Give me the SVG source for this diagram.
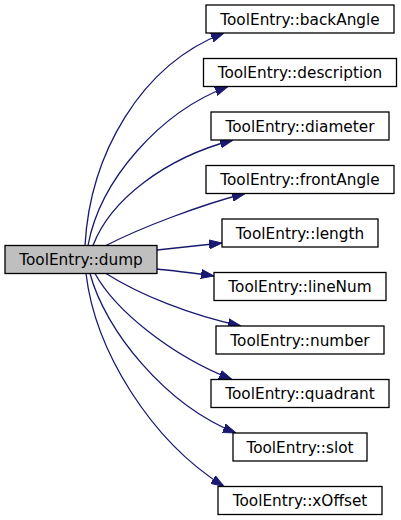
<svg xmlns="http://www.w3.org/2000/svg" width="401" height="520" viewBox="0 0 401 520">
<style>
.box rect{fill:#ffffff;stroke:#000000;stroke-width:1.3}
.root rect{fill:#bfbfbf}
.box text{font-family:"DejaVu Sans","Liberation Sans",sans-serif;font-size:15.3px;fill:#000000;text-anchor:middle}
.edge{fill:none;stroke:#191970;stroke-width:1.3;marker-end:url(#arr)}
</style>
<defs>
<marker id="arr" markerUnits="userSpaceOnUse" markerWidth="13" markerHeight="10" viewBox="0 0 13 10" refX="13" refY="5" orient="auto">
<path d="M0,0.5 L13,5 L0,9.5 Z" fill="#191970" stroke="#191970" stroke-width="1"/>
</marker>
</defs>
<rect x="0" y="0" width="401" height="520" fill="#ffffff"/>
<g id="edges">
<path class="edge" d="M85,245.5 C90,155 140,65 224,33"/>
<path class="edge" d="M88,245.5 C100,180 160,112 228,86.5"/>
<path class="edge" d="M93,245.5 C110,200 165,158 233,140"/>
<path class="edge" d="M106,245.5 C140,228 200,205 245,193.5"/>
<path class="edge" d="M157,250 C175,248 195,246 222,243"/>
<path class="edge" d="M157,269 C175,271 195,273 214,276"/>
<path class="edge" d="M106,273.5 C140,295 190,315 241,326"/>
<path class="edge" d="M95,273.5 C115,310 170,355 232,379.5"/>
<path class="edge" d="M90,273.5 C105,330 165,405 236,433"/>
<path class="edge" d="M86,273.5 C95,350 150,440 224,486.5"/>
</g>
<g id="dump" class="box root"><rect x="5" y="245.5" width="152" height="28"/><text x="81" y="265">ToolEntry::dump</text></g>
<g id="backAngle" class="box"><rect x="206" y="5" width="188" height="28"/><text x="300" y="24.5">ToolEntry::backAngle</text></g>
<g id="description" class="box"><rect x="203.5" y="58.5" width="193" height="28"/><text x="300" y="78">ToolEntry::description</text></g>
<g id="diameter" class="box"><rect x="211" y="112" width="178" height="28"/><text x="300" y="131.5">ToolEntry::diameter</text></g>
<g id="frontAngle" class="box"><rect x="206" y="165.5" width="188" height="28"/><text x="300" y="185">ToolEntry::frontAngle</text></g>
<g id="length" class="box"><rect x="222" y="219" width="156" height="28"/><text x="300" y="238.5">ToolEntry::length</text></g>
<g id="lineNum" class="box"><rect x="214" y="272.5" width="172" height="28"/><text x="300" y="292">ToolEntry::lineNum</text></g>
<g id="number" class="box"><rect x="216" y="326" width="168" height="28"/><text x="300" y="345.5">ToolEntry::number</text></g>
<g id="quadrant" class="box"><rect x="211" y="379.5" width="178" height="28"/><text x="300" y="399">ToolEntry::quadrant</text></g>
<g id="slot" class="box"><rect x="233" y="433" width="134" height="28"/><text x="300" y="452.5">ToolEntry::slot</text></g>
<g id="xOffset" class="box"><rect x="218" y="486.5" width="164" height="28"/><text x="300" y="506">ToolEntry::xOffset</text></g>
</svg>
